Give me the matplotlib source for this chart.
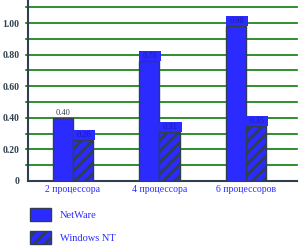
import numpy as np
import matplotlib.pyplot as plt
from matplotlib.patches import Patch

# данные
groups = ["2 процессора", "4 процессора", "6 процессоров"]
netware = [0.40, 0.76, 0.98]
winnt = [0.26, 0.31, 0.35]
series_names = ["NetWare", "Windows NT"]

blue = "#2b2bff"
dark = "#2f3f4f"
green = "#0a7a0a"
plt.rcParams["font.family"] = ["Liberation Serif", "DejaVu Serif"]
plt.rcParams["hatch.color"] = dark
plt.rcParams["hatch.linewidth"] = 2.0

fig = plt.figure(figsize=(3.0, 2.47), dpi=100)
ax = fig.add_axes([28/300, 66/247, 269/300, 181/247])

x = np.arange(len(groups))
w = 0.232
b1 = ax.bar(x - w/2, netware, w, color=blue, edgecolor=dark, linewidth=1.0, zorder=3)
b2 = ax.bar(x + w/2, winnt, w, color=blue, edgecolor=dark, linewidth=1.0,
            hatch="///", zorder=3)

# подписи значений (фон-плашка над столбиком)
bh = 0.063
bw = 0.255
for i, r in enumerate(list(b1) + list(b2)):
    v = r.get_height()
    x0 = r.get_x()
    if i == 0:
        ax.text(x0 + r.get_width()/2, v + 0.008, "%.2f" % v, ha="center", va="bottom",
                fontsize=6, color=dark, zorder=4)
    else:
        ax.bar(x0, bh, bw, bottom=v, align="edge", color=blue, lw=0, zorder=4)
        ax.text(x0 + bw/2, v + bh/2, "%.2f" % v, ha="center", va="center",
                fontsize=6, color="#1a1ab0", zorder=5)

ax.set_xlim(-0.52, 2.59)
ax.set_ylim(0, 1.146)
ax.set_yticks([0, 0.2, 0.4, 0.6, 0.8, 1.0])
ax.set_yticklabels(["0", "0.20", "0.40", "0.60", "0.80", "1.00"],
                   fontsize=7, color=dark, fontweight="bold")
ax.tick_params(axis="y", which="both", length=0, pad=6)
for yv in np.arange(0.1, 1.15, 0.1):
    ax.axhline(yv, xmin=-0.008, xmax=1.0, color=green, lw=1.2, zorder=1, clip_on=False)
ax.set_xticks(x)
ax.set_xticklabels(groups, fontsize=7, color=blue)
ax.tick_params(axis="x", length=0, pad=3)

for s in ["top", "right"]:
    ax.spines[s].set_visible(False)
for s in ["left", "bottom"]:
    ax.spines[s].set_color(dark)
    ax.spines[s].set_linewidth(1.5)

handles = [Patch(fc=blue, ec=dark, lw=1.0),
           Patch(fc=blue, ec=dark, lw=1.0, hatch="///")]
fig.legend(handles, series_names, loc="upper left", bbox_to_anchor=(0.07, 0.195),
           frameon=False, fontsize=7.5, handlelength=2.0, handleheight=1.5,
           labelspacing=1.0, handletextpad=0.8, labelcolor=blue)

fig.savefig("out.png", dpi=100)
